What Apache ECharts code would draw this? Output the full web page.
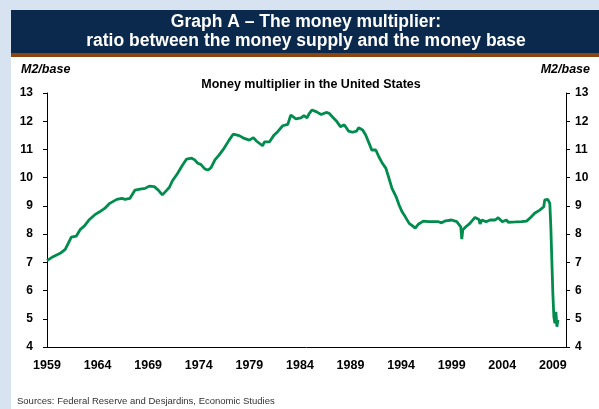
<!DOCTYPE html>
<html>
<head>
<meta charset="utf-8">
<script src="https://cdn.jsdelivr.net/npm/echarts@6/dist/echarts.min.js"></script>
<style>
    html, body { margin:0; padding:0; background:#d7e3f0; }
    #main { width:599px; height:409px; }
</style>
</head>
<body>
<div id="main"></div>
<script>
// data (year, M2/base)
var years = [1959.0,1959.6,1960.3,1960.8,1961.1,1961.4,1961.9,1962.3,1962.7,1963.2,1963.7,1964.2,1964.7,1965.2,1965.9,1966.4,1966.7,1967.2,1967.7,1968.2,1968.7,1969.1,1969.6,1970.0,1970.4,1970.8,1971.1,1971.4,1971.9,1972.4,1972.8,1973.3,1973.6,1973.9,1974.2,1974.6,1974.9,1975.2,1975.6,1976.0,1976.5,1977.0,1977.4,1978.0,1978.5,1979.0,1979.4,1979.7,1980.3,1980.5,1981.0,1981.4,1981.8,1982.3,1982.8,1983.1,1983.6,1984.1,1984.4,1984.7,1984.9,1985.2,1985.6,1986.1,1986.6,1986.9,1987.2,1987.6,1988.0,1988.4,1988.8,1989.2,1989.6,1989.8,1990.2,1990.5,1990.8,1991.1,1991.5,1991.8,1992.1,1992.5,1992.8,1993.1,1993.5,1993.8,1994.1,1994.4,1994.8,1995.1,1995.4,1995.7,1996.2,1996.7,1997.7,1998.0,1998.4,1999.0,1999.5,1999.9,2000.0,2000.1,2000.4,2000.8,2001.3,2001.7,2001.8,2002.0,2002.4,2002.8,2003.3,2003.6,2004.0,2004.4,2004.6,2005.3,2005.9,2006.4,2006.8,2007.2,2007.7,2008.1,2008.2,2008.5,2008.7,2008.8,2008.9,2009.0,2009.1,2009.2,2009.3,2009.4,2009.5];
var multiplier = [7.06,7.20,7.32,7.46,7.67,7.89,7.93,8.17,8.29,8.52,8.68,8.79,8.91,9.09,9.23,9.27,9.23,9.27,9.56,9.59,9.62,9.70,9.68,9.56,9.39,9.54,9.66,9.89,10.15,10.45,10.66,10.69,10.63,10.51,10.47,10.31,10.27,10.35,10.63,10.80,11.04,11.33,11.54,11.49,11.39,11.33,11.42,11.30,11.13,11.27,11.27,11.49,11.63,11.84,11.89,12.22,12.08,12.12,12.20,12.12,12.26,12.40,12.34,12.24,12.31,12.28,12.16,12.01,11.81,11.87,11.65,11.61,11.65,11.77,11.69,11.51,11.25,10.98,10.98,10.74,10.54,10.33,9.98,9.62,9.33,9.03,8.79,8.62,8.38,8.30,8.21,8.35,8.46,8.44,8.44,8.40,8.47,8.50,8.44,8.26,7.82,8.15,8.26,8.38,8.59,8.52,8.36,8.50,8.44,8.50,8.50,8.58,8.44,8.50,8.42,8.43,8.44,8.46,8.59,8.74,8.85,8.97,9.21,9.23,9.09,8.26,7.08,5.90,5.07,4.84,5.25,4.72,4.96];

var yearTicks = [1959,1964,1969,1974,1979,1984,1989,1994,1999,2004,2009];

var points = years.map(function(y, i){ return [y, multiplier[i]]; });

var font = '"Liberation Sans", Arial, sans-serif';
var myChart = echarts.init(document.getElementById('main'));

var yAxisBase = {
    type:'value',
    min:4,
    max:13,
    interval:1,
    splitLine:{show:false},
    axisLine:{show:true, lineStyle:{color:'#000', width:1}},
    axisTick:{show:true, length:4, lineStyle:{color:'#000'}},
    axisLabel:{color:'#000', fontFamily:font, fontWeight:'bold', fontSize:12}
};

var option = {
    backgroundColor:'#d7e3f0',
    animation:false,
    graphic:[
        {type:'rect', shape:{x:11, y:10, width:588, height:399}, style:{fill:'#fff'}, z:0},
        {type:'rect', shape:{x:11, y:10, width:588, height:43}, style:{fill:'#0b284d'}, z:1},
        {type:'rect', shape:{x:11, y:53, width:588, height:4}, style:{fill:'#8b4610'}, z:1},
        {type:'text', x:306, y:13, z:2, style:{
            text:'Graph A – The money multiplier:\nratio between the money supply and the money base',
            fill:'#fff', font:'bold 17.5px ' + font, textAlign:'center', lineHeight:19
        }},
        {type:'text', left:21, top:63, z:2, style:{text:'M2/base', fill:'#000', font:'italic bold 12.5px ' + font}},
        {type:'text', right:9, top:63, z:2, style:{text:'M2/base', fill:'#000', font:'italic bold 12.5px ' + font}},
        {type:'text', left:17, top:396, z:2, style:{text:'Sources: Federal Reserve and Desjardins, Economic Studies', fill:'#333', font:'9.5px ' + font}}
    ],
    title:{
        text:'Money multiplier in the United States',
        left:306,
        textAlign:'center',
        top:73,
        textStyle:{color:'#000', fontFamily:font, fontWeight:'bold', fontSize:12.5}
    },
    grid:{
        left:47, right:33, top:93, bottom:62,
        show:true, borderColor:'#000', borderWidth:1, backgroundColor:'transparent'
    },
    xAxis:{
        type:'value',
        min:1959,
        max:2010.3,
        interval:5,
        splitLine:{show:false},
        axisLine:{show:true, lineStyle:{color:'#000'}},
        axisTick:{show:false},
        axisLabel:{
            color:'#000', fontFamily:font, fontWeight:'bold', fontSize:12.5, margin:12,
            showMaxLabel:false,
            formatter:function(v){ return yearTicks.indexOf(Math.round(v)) >= 0 ? String(Math.round(v)) : ''; }
        }
    },
    yAxis:[
        echarts.util.merge({position:'left', axisLabel:{margin:14}}, yAxisBase, false),
        echarts.util.merge({position:'right', axisLabel:{margin:9}}, yAxisBase, false)
    ],
    series:[
        {
            name:'M2/base',
            type:'line',
            yAxisIndex:0,
            data:points,
            showSymbol:false,
            smooth:false,
            lineStyle:{color:'#008c4c', width:2.8},
            z:3
        }
    ]
};
myChart.setOption(option);
</script>
</body>
</html>
